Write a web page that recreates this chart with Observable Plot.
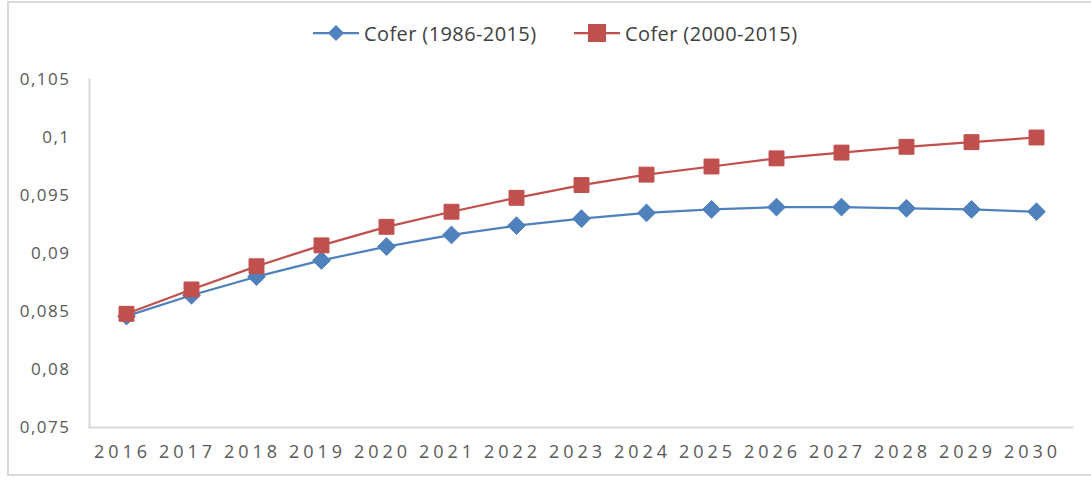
<!DOCTYPE html>
<html>
<head>
<meta charset="utf-8">
<script src="https://cdn.jsdelivr.net/npm/d3@7"></script>
<script src="https://cdn.jsdelivr.net/npm/@observablehq/plot@0.6"></script>
<style>
  html, body { margin: 0; padding: 0; background: #fff; }
  #wrap { position: relative; width: 1091px; height: 481px; overflow: hidden; font-family: "Open Sans", sans-serif; }
  #border { position: absolute; left: 7px; top: 1px; width: 1100px; height: 475px; border: 2px solid #d9d9d9; box-sizing: border-box; }
  #legend { position: absolute; left: 0; top: 0; width: 1091px; height: 60px; }
  .item { position: absolute; top: 21px; height: 24px; display: flex; align-items: center; color: #404040; font-size: 20px; letter-spacing: 0.4px; white-space: nowrap; }
  .item svg { margin-right: 5px; }
  #chart { position: absolute; left: 0; top: 60px; }
  .cc g[aria-label="x-axis tick label"] text { letter-spacing: 4px; }
  .cc g[aria-label="y-axis tick label"] text { letter-spacing: 1.5px; }
</style>
</head>
<body>
<div id="wrap">
  <div id="border"></div>
  <div id="legend"></div>
  <div id="chart"></div>
</div>
<script>
const years = [2016,2017,2018,2019,2020,2021,2022,2023,2024,2025,2026,2027,2028,2029,2030];
const cofer1986 = [0.0846,0.0864,0.0880,0.0894,0.0906,0.0916,0.0924,0.0930,0.0935,0.0938,0.0940,0.0940,0.0939,0.0938,0.0936];
const cofer2000 = [0.0848,0.0869,0.0889,0.0907,0.0923,0.0936,0.0948,0.0959,0.0968,0.0975,0.0982,0.0987,0.0992,0.0996,0.1000];
const seriesNames = ["Cofer (1986-2015)", "Cofer (2000-2015)"];
const seriesColors = ["#4F81BD", "#C0504D"];
const yTicks = [0.075,0.08,0.085,0.09,0.095,0.1,0.105];
const yTickLabels = ["0,075","0,08","0,085","0,09","0,095","0,1","0,105"];

const data = [
  ...years.map((y, i) => ({year: String(y), value: cofer1986[i], series: seriesNames[0]})),
  ...years.map((y, i) => ({year: String(y), value: cofer2000[i], series: seriesNames[1]}))
];

const s0 = data.filter(d => d.series === seriesNames[0]);
const s1 = data.filter(d => d.series === seriesNames[1]);

const chart = Plot.plot({
  className: "cc",
  width: 1091,
  height: 421,
  marginTop: 19,
  marginBottom: 54,
  marginLeft: 89,
  marginRight: 19,
  style: {fontFamily: "Open Sans, sans-serif", background: "transparent"},
  x: {type: "point", domain: years.map(String), padding: 0.5},
  y: {domain: [0.075, 0.105]},
  marks: [
    Plot.frame({anchor: "left", stroke: "#d9d9d9", strokeWidth: 2}),
    Plot.frame({anchor: "bottom", stroke: "#d9d9d9", strokeWidth: 2}),
    Plot.axisY({ticks: yTicks, tickSize: 0, tickPadding: 19, tickFormat: d => yTickLabels[yTicks.indexOf(d)], fontSize: 17, fill: "#595959", label: null}),
    Plot.axisX({tickSize: 0, tickPadding: 18, fontSize: 18, fill: "#595959", dx: -4, label: null}),
    Plot.line(s0, {x: "year", y: "value", stroke: seriesColors[0], strokeWidth: 2.25}),
    Plot.line(s1, {x: "year", y: "value", stroke: seriesColors[1], strokeWidth: 2.25}),
    Plot.dot(s0, {x: "year", y: "value", symbol: "diamond2", r: 8, fill: seriesColors[0], stroke: seriesColors[0], strokeWidth: 1}),
    Plot.dot(s1, {x: "year", y: "value", symbol: "square2", r: 9.5, fill: seriesColors[1], stroke: seriesColors[1], strokeWidth: 1})
  ]
});
document.getElementById("chart").appendChild(chart);

// legend
const legend = document.getElementById("legend");
const lefts = [313, 574];
seriesNames.forEach((name, i) => {
  const div = document.createElement("div");
  div.className = "item";
  div.style.left = lefts[i] + "px";
  const marker = i === 0
    ? `<polygon points="23,4 31,12 23,20 15,12" fill="${seriesColors[i]}"/>`
    : `<rect x="14" y="3" width="18" height="18" fill="${seriesColors[i]}"/>`;
  div.innerHTML = `<svg width="46" height="24"><line x1="0" y1="12" x2="46" y2="12" stroke="${seriesColors[i]}" stroke-width="2.25"/>${marker}</svg><span>${name}</span>`;
  legend.appendChild(div);
});
</script>
</body>
</html>
